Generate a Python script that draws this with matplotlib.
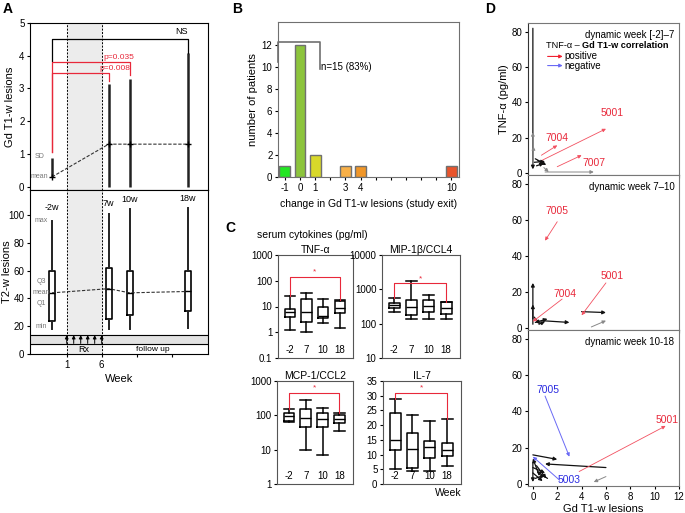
import matplotlib
matplotlib.use("Agg")
import matplotlib.pyplot as plt
import matplotlib.transforms as mtrans

plt.rcParams['font.family'] = ['Liberation Sans', 'DejaVu Sans']
plt.rcParams['font.size'] = 7
plt.rcParams['axes.linewidth'] = 0.8
plt.rcParams['xtick.major.size'] = 2.5
plt.rcParams['ytick.major.size'] = 2.5
plt.rcParams['xtick.major.pad'] = 2
plt.rcParams['ytick.major.pad'] = 1.5

W, H = 685, 513

# ---- A, top: Gd T1-w lesions (mean and SD)
a_weeks = [-1.1, 7, 10, 18.3]
a_week_labels = ['-2w', '7w', '10w', '18w']
gd_mean = [0.3, 1.3, 1.3, 1.3]
gd_sd_low = [0.3, 0, 0, 0]
gd_sd_high = [0.87, 3.15, 3.3, 4.08]

# ---- A, bottom: T2-w lesions (whislo, q1, med, q3, whishi)
t2_box = [(18, 24, 44, 60, 96),
          (18, 25, 47, 62, 101),
          (18, 28, 44, 60, 104),
          (19, 31, 45, 60, 105)]
rx_weeks = [1, 2, 3, 4, 5, 6]

# ---- B: change in Gd T1-w lesions at study exit
b_change = [-1, 0, 1, 3, 4, 10]
b_patients = [1, 12, 2, 1, 1, 1]
b_colors = ['#22e622', '#8cc43c', '#d8d82a', '#f8b048', '#f09628', '#e8542c']
b_ticklabels = [-1, 0, 1, 3, 4, 10]

# ---- C: serum cytokines (whislo, q1, med, q3, whishi) per week
c_weeks = ['-2', '7', '10', '18']
tnf_box = [(1.2, 4, 6, 8, 25), (1.0, 2.5, 6, 20, 32),
           (2.2, 3.5, 4.3, 10, 20), (1.4, 5.5, 9, 17, 18)]
mip_box = [(220, 290, 350, 400, 550), (140, 180, 300, 500, 1700),
           (140, 220, 330, 500, 700), (140, 190, 280, 420, 420)]
mcp_box = [(65, 70, 95, 120, 150), (9.5, 45, 85, 150, 280),
           (7, 45, 80, 120, 160), (35, 60, 80, 100, 115)]
il7_box = [(5, 11.5, 15, 24, 29), (4.5, 5.5, 12, 17.5, 23.5),
           (4.5, 9, 12.5, 14.5, 21.5), (6, 9.5, 11.5, 14, 22)]
c_bracket = {'tnf': 140, 'mip': 1500, 'mcp': 450, 'il7': 31}

# ---- D: TNF-a vs Gd T1-w lesion trajectories (x0, y0, x1, y1)
d1_black = [(0.0, 82, 0.0, 2), (0.2, 8, 1.0, 5), (0.1, 6, 1.0, 6.5),
            (0.3, 4, 0.9, 5.5), (0.4, 7, 1.1, 4.5), (0.0, 5, 0.0, 23),
            (0.05, 6, 0.05, 15), (0.9, 3, 1.3, 0.5), (1.0, 0.5, 5.0, 0.5)]
d1_grey = [5, 6, 7, 8]
d1_pos = [(0.7, 10, 2.0, 15.6), (0.8, 7.3, 6.0, 25), (2.0, 3.5, 4.0, 10)]
d1_pos_ids = ['7004', '5001', '7007']

d2_black = [(0.0, 2, 0.0, 25), (0.0, 5, 0.0, 13), (0.7, 4, 3.0, 3),
            (0.2, 3, 1.2, 5), (4.0, 9, 6.0, 8.5), (4.8, 0.5, 6.0, 4),
            (0.5, 2, 1.0, 3.5), (0.1, 6, 0.6, 2)]
d2_grey = [5]
d2_pos = [(2.0, 59, 1.0, 48.5), (6.0, 25, 4.0, 7), (2.4, 16, 0.0, 3.5)]
d2_pos_ids = ['7005', '5001', '7004']

d3_black = [(0.0, 16, 2.0, 13.5), (6.0, 9, 1.0, 11), (6.0, 4, 5.0, 1),
            (0.0, 9, 1.0, 6), (0.0, 12, 0.0, 1), (0.2, 3, 1.0, 5),
            (0.5, 5, 0.0, 14), (1.2, 3, 0.3, 7), (0.0, 6, 0.8, 1.5),
            (0.3, 10, 1.1, 3)]
d3_grey = [2]
d3_pos = [(3.8, 6.8, 10.9, 32)]
d3_pos_ids = ['5001']
d3_neg = [(1.0, 48.5, 3.0, 15), (2.2, 2, 0.0, 15)]
d3_neg_ids = ['7005', '5003']

fig = plt.figure(figsize=(W / 100, H / 100), dpi=100)


def px_axes(l, t, r, b):
    return fig.add_axes([l / W, 1 - b / H, (r - l) / W, (b - t) / H])


def fig_text(x, y, s, **kw):
    fig.text(x / W, 1 - y / H, s, **kw)


RED = '#e8283a'
BLUE = '#2a2ae0'

# ================= A top =================
axa = px_axes(30, 23, 208, 190)
axa.set_xlim(-4.25, 21.2)
axa.set_ylim(-0.1, 5)
axa.axvspan(1, 6, color='#ececec', zorder=0)
for w in (1, 6):
    axa.axvline(w, ls=(0, (2, 1.5)), color='k', lw=0.7)
axa.vlines(a_weeks, gd_sd_low, gd_sd_high, color='#222222', lw=1.8)
axa.plot(a_weeks, gd_mean, ls=(0, (3, 1.5)), color='#333333', lw=0.8,
         marker='+', ms=5, mew=1, mec='k')
x0, x7, x10, x18 = a_weeks
axa.plot([x0, x0, x18, x18], [3.85, 4.5, 4.5, gd_sd_high[3]], color='k', lw=0.9)
axa.plot([x0, x0, x10, x10], [1.05, 3.8, 3.8, 3.42], color=RED, lw=0.9)
axa.plot([x0, x0, x7, x7], [1.05, 3.47, 3.47, 3.22], color=RED, lw=0.9)
axa.text(17.4, 4.6, 'NS', ha='center', va='bottom', fontsize=6.5)
axa.text(8.5, 3.85, 'p=0.035', color=RED, ha='center', va='bottom', fontsize=6)
axa.text(7.9, 3.5, 'p=0.008', color=RED, ha='center', va='bottom', fontsize=6)
axa.text(-2.85, 0.92, 'SD', color='#777777', ha='center', va='center', fontsize=5)
axa.text(-2.9, 0.3, 'mean', color='#777777', ha='center', va='center', fontsize=5)
axa.set_yticks(range(6))
axa.set_xticks([1, 6, 11, 16])
axa.set_xticklabels([])
axa.set_ylabel('Gd T1-w lesions', fontsize=8)
axa.yaxis.set_label_coords(-0.085, 0.5)

# ================= A bottom =================
axb = px_axes(30, 190, 208, 354)
axb.set_xlim(-4.25, 21.2)
axb.set_ylim(0, 118)
axb.axvspan(1, 6, color='#ececec', zorder=0)
axb.axhspan(7.5, 14, color='#e2e2e2', zorder=0.5)
axb.axhline(7.5, color='k', lw=0.8)
axb.axhline(14, color='k', lw=0.8)
for w in (1, 6):
    axb.axvline(w, ls=(0, (2, 1.5)), color='k', lw=0.7)
for w in rx_weeks:
    axb.annotate('', xy=(w, 13.6), xytext=(w, 7.6),
                 arrowprops=dict(arrowstyle='-|>', lw=0.7, color='k',
                                 mutation_scale=5, shrinkA=0, shrinkB=0))
stats = [dict(whislo=b[0], q1=b[1], med=b[2], q3=b[3], whishi=b[4]) for b in t2_box]
axb.bxp(stats, positions=a_weeks, widths=0.9, showcaps=False, showfliers=False,
        manage_ticks=False,
        boxprops=dict(lw=1.2, color='k'), whiskerprops=dict(lw=1.4, color='#222'),
        medianprops=dict(lw=1.0, color='k'))
axb.plot(a_weeks, [b[2] for b in t2_box], ls=(0, (3, 1.5)), color='#333333', lw=0.8)
label_y = [102, 105, 108, 109]
for w, lab, ly in zip(a_weeks, a_week_labels, label_y):
    axb.text(w, ly, lab, ha='center', va='bottom', fontsize=6.5)
for s, yy in [('max', 96), ('Q3', 52), ('mean', 44), ('Q1', 36), ('min', 20)]:
    axb.text(-2.6, yy, s, color='#777777', ha='center', va='center', fontsize=5)
axb.text(3.5, 3.5, 'Rx', ha='center', va='center', fontsize=6.5)
axb.text(13.3, 3.5, 'follow up', ha='center', va='center', fontsize=6)
axb.set_yticks([0, 20, 40, 60, 80, 100])
axb.set_xticks([1, 6, 11, 16])
axb.set_xticklabels(['1', '6', '', ''])
axb.set_ylabel('T2-w lesions', fontsize=8)
axb.yaxis.set_label_coords(-0.1, 0.5)
axb.set_xlabel('Week', fontsize=8, labelpad=3)

# ================= B =================
axB = px_axes(278, 22, 459, 177)
axB.bar(b_change, b_patients, width=0.72, color=b_colors, edgecolor='#707070', lw=1.0)
axB.set_xlim(-1.45, 10.5)
axB.set_ylim(0, 14.1)
axB.plot([-1.42, -1.42, 1.3, 1.3], [10.5, 12.3, 12.3, 9.8], color='#707070', lw=1.2,
         clip_on=False)
axB.text(1.38, 10.0, 'n=15 (83%)', ha='left', va='center', fontsize=7)
axB.set_xticks(range(-1, 11))
axB.set_xticklabels([str(v) if v in b_ticklabels else '' for v in range(-1, 11)])
axB.set_yticks(range(0, 13, 2))
for sp in axB.spines.values():
    sp.set_color('#707070')
axB.set_ylabel('number of patients', fontsize=8, labelpad=3)
axB.set_xlabel('change in Gd T1-w lesions (study exit)', fontsize=7.5, labelpad=4)


# ================= C =================
def cyto_panel(rect, boxes, title, log, ylim, yticks, bracket):
    ax = px_axes(*rect)
    st = [dict(whislo=b[0], q1=b[1], med=b[2], q3=b[3], whishi=b[4]) for b in boxes]
    ax.bxp(st, positions=[1, 2, 3, 4], widths=0.62, capwidths=0.62,
           showfliers=False, manage_ticks=False,
           boxprops=dict(lw=1.1, color='k'), whiskerprops=dict(lw=1.1, color='k'),
           capprops=dict(lw=1.1, color='k'), medianprops=dict(lw=1.0, color='k'))
    if log:
        ax.set_yscale('log')
    ax.set_ylim(*ylim)
    ax.set_xlim(0.3, 4.8)
    ax.set_yticks(yticks)
    ax.set_yticklabels([('%g' % v) for v in yticks])
    ax.minorticks_off()
    ax.set_xticks([])
    ax.plot([1, 1, 4, 4], [boxes[0][4], bracket, bracket, boxes[3][4]],
            color=RED, lw=0.8)
    ax.annotate('*', (2.5, bracket), xytext=(0, 1), textcoords='offset points',
                color=RED, ha='center', va='bottom', fontsize=6)
    tr = mtrans.blended_transform_factory(ax.transData, ax.transAxes)
    for i, w in enumerate(c_weeks):
        ax.text(i + 1, 0.03, w, transform=tr, ha='center', va='bottom', fontsize=7)
    ax.set_title(title, pad=1.5, fontsize=7.5)
    for sp in ax.spines.values():
        sp.set_color('#555555')
    return ax


cyto_panel((278, 255, 353, 358), tnf_box, 'TNF-α', True, (0.1, 1000),
           [0.1, 1, 10, 100, 1000], c_bracket['tnf'])
cyto_panel((382, 255, 460, 358), mip_box, 'MIP-1β/CCL4', True, (10, 10000),
           [10, 100, 1000, 10000], c_bracket['mip'])
cyto_panel((277, 381, 353, 484), mcp_box, 'MCP-1/CCL2', True, (1, 1000),
           [1, 10, 100, 1000], c_bracket['mcp'])
cyto_panel((383, 381, 461, 484), il7_box, 'IL-7', False, (0, 35),
           list(range(0, 36, 5)), c_bracket['il7'])
fig_text(257, 235, 'serum cytokines (pg/ml)', ha='left', va='center', fontsize=7.5)
fig_text(448, 493, 'Week', ha='center', va='center', fontsize=7.5)


# ================= D =================
def arrow(ax, seg, color, lw=0.6, ms=5):
    x0, y0, x1, y1 = seg
    ax.annotate('', xy=(x1, y1), xytext=(x0, y0),
                arrowprops=dict(arrowstyle='-|>', color=color, lw=lw,
                                mutation_scale=ms, shrinkA=0, shrinkB=0))


def d_panel(rect, title, black, grey, pos, pos_ids, pos_lab, neg=(), neg_ids=(), neg_lab=()):
    ax = px_axes(*rect)
    ax.set_xlim(-0.4, 12)
    ax.set_ylim(-1.2, 85)
    ax.set_yticks([0, 20, 40, 60, 80])
    ax.set_xticks(range(0, 13, 2))
    for i, seg in enumerate(black):
        c = '#888888' if i in grey else '#111111'
        arrow(ax, seg, c, lw=0.9 if c == '#111111' else 0.7)
    for seg, pid, (lx, ly) in zip(pos, pos_ids, pos_lab):
        arrow(ax, seg, '#f25060', lw=0.6)
        ax.text(lx, ly, pid, color=RED, ha='center', va='center', fontsize=7.5)
    for seg, pid, (lx, ly) in zip(neg, neg_ids, neg_lab):
        arrow(ax, seg, '#6a6af5', lw=0.7)
        ax.text(lx, ly, pid, color=BLUE, ha='center', va='center', fontsize=7.5)
    ax.text(0.97, 0.955, title, transform=ax.transAxes, ha='right', va='top', fontsize=7)
    for sp in ax.spines.values():
        sp.set_color('#777777')
    ax.spines['left'].set_color('#333333')
    return ax


d1 = d_panel((528, 23, 679, 175), 'dynamic week [-2]\u20137', d1_black, d1_grey,
             d1_pos, d1_pos_ids, [(2.0, 20), (6.5, 34), (5.0, 5.5)])
d1.set_xticklabels([])
d1.set_ylabel('TNF-α (pg/ml)', fontsize=8, labelpad=2)
t1 = d1.text(0.12, 0.85, 'TNF-α \u2013 ', transform=d1.transAxes, ha='left',
             va='center', fontsize=6.6)
d1.annotate('Gd T1-w correlation', xy=(1, 0), xycoords=t1, ha='left', va='bottom',
            fontsize=6.6, weight='bold')
for yy, c, s in [(0.78, '#f02030', 'positive'), (0.72, '#6a6af5', 'negative')]:
    d1.annotate('', xy=(0.23, yy), xytext=(0.13, yy), xycoords='axes fraction',
                arrowprops=dict(arrowstyle='-|>', color=c, lw=0.8, mutation_scale=5,
                                shrinkA=0, shrinkB=0))
    d1.text(0.24, yy, s, transform=d1.transAxes, ha='left', va='center', fontsize=7)

d2 = d_panel((528, 175, 679, 330), 'dynamic week 7\u201310', d2_black, d2_grey,
             d2_pos, d2_pos_ids, [(2.0, 65), (6.5, 29), (2.6, 18.6)])
d2.set_xticklabels([])

d3 = d_panel((528, 330, 679, 486), 'dynamic week 10-18', d3_black, d3_grey,
             d3_pos, d3_pos_ids, [(11.0, 35.5)],
             d3_neg, d3_neg_ids, [(1.2, 52), (3.0, 2.3)])
d3.set_xlabel('Gd T1-w lesions', fontsize=8, labelpad=1)

# panel letters
for s, x, y in [('A', 8, 9), ('B', 237, 9), ('C', 230, 228), ('D', 490, 9)]:
    fig_text(x, y, s, fontsize=10, weight='bold', ha='center', va='center')

fig.savefig('out.png', dpi=100)
